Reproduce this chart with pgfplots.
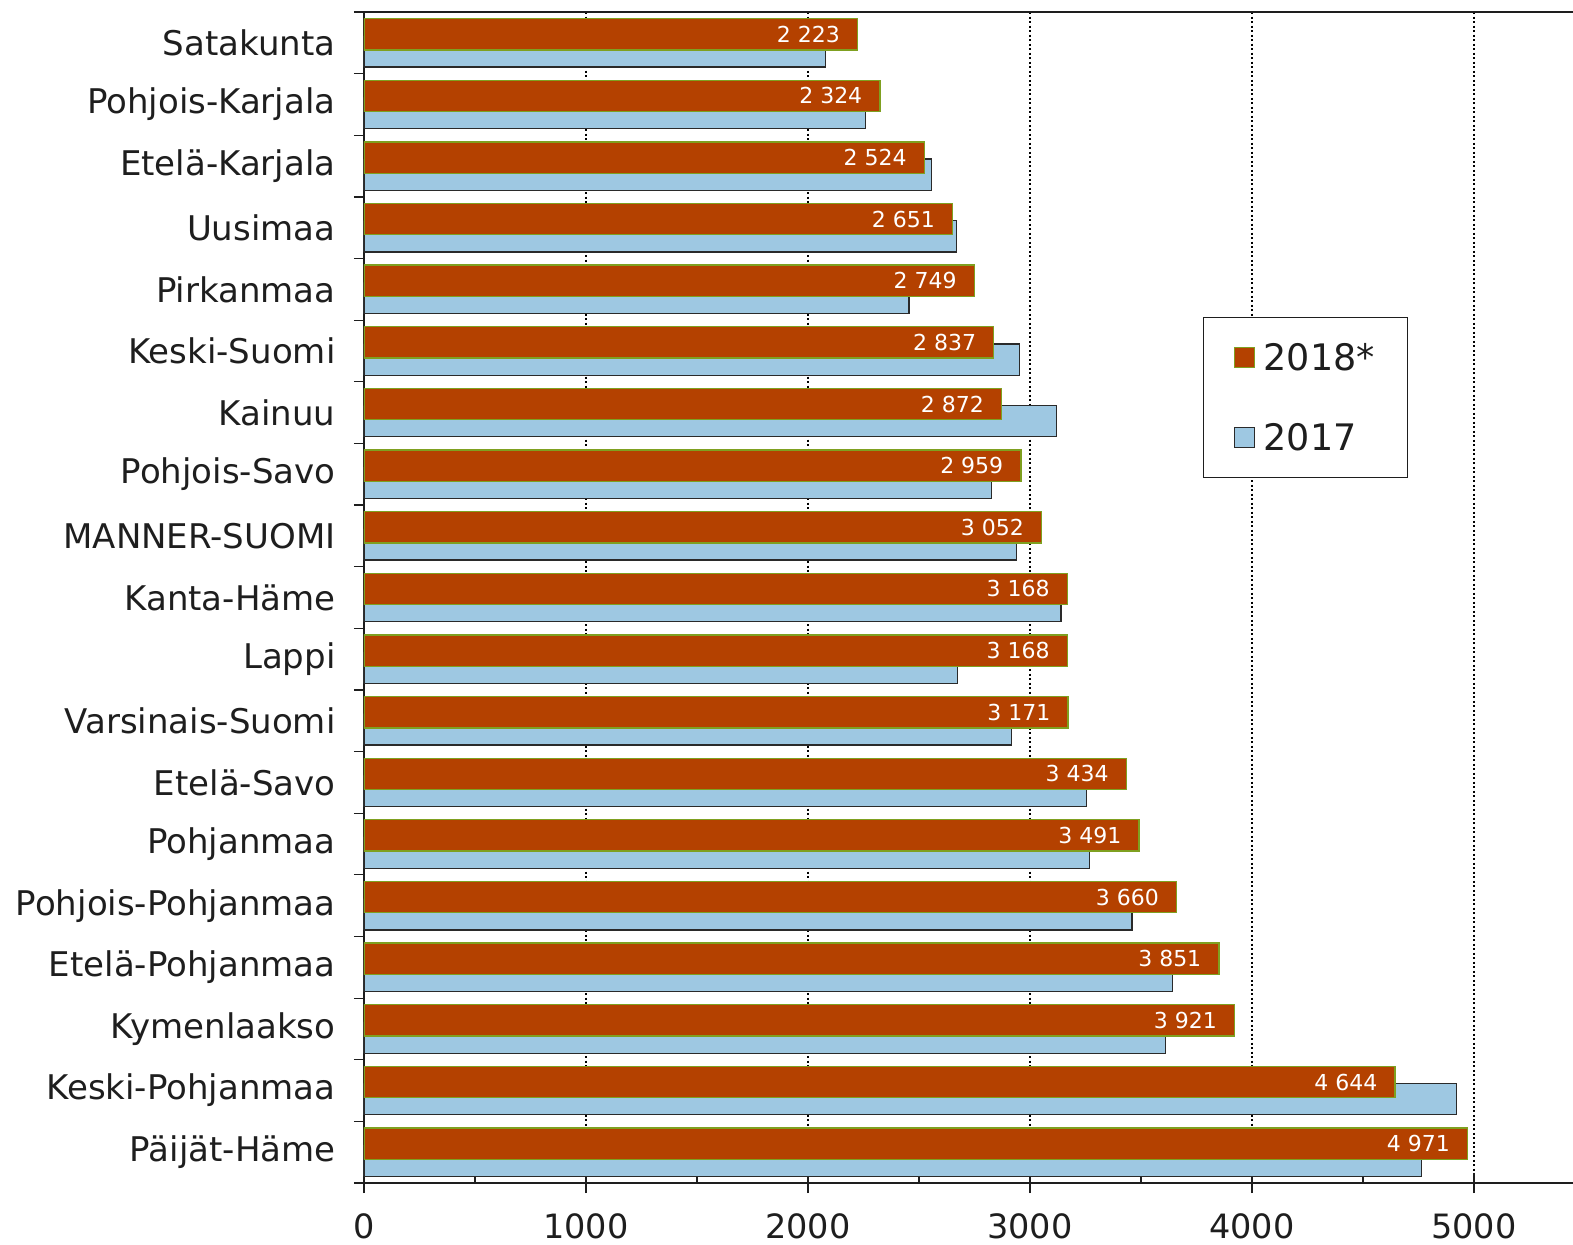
\documentclass[border=0pt]{standalone}
\usepackage{fontspec}
\setmainfont{DejaVu Sans}
\usepackage{pgfplots}
\pgfplotsset{compat=1.18}

\definecolor{brown18}{HTML}{B44100}
\definecolor{edge18}{HTML}{7FA020}
\definecolor{blue17}{HTML}{9EC8E2}
\definecolor{edge17}{HTML}{2A2A2A}
\definecolor{txt}{HTML}{1E1E1E}

\begin{document}
\begin{tikzpicture}
\useasboundingbox (-364pt,-61pt) rectangle (1209pt,1183pt);
\begin{axis}[
    name=ax,
    at={(0,0)}, anchor=south west,
    scale only axis,
    width=1209pt, height=1171pt,
    xmin=0, xmax=5446,
    ymin=-0.5, ymax=18.5, y dir=reverse,
    axis x line*=bottom, axis y line*=left,
    axis line style={line width=2.5pt, txt},
    xbar, bar width=0.508,
    tick align=outside, major tick length=10pt,
    tick style={line width=1.2pt, txt},
    xtick={0,1000,...,5000},
    xticklabel style={/pgf/number format/1000 sep={}, yshift=-17pt,
        font=\fontsize{33.5pt}{40pt}\selectfont},
    xmajorgrids,
    major grid style={black, line width=2pt, dash pattern=on 2pt off 2.5pt},
    extra x ticks={500,1000,...,5000}, extra x tick labels={},
    extra x tick style={tick align=inside, grid=none},
    ytick={-0.5,0.5,...,18.5}, yticklabels={},
    extra y ticks={0,...,18},
    extra y tick labels={Satakunta,Pohjois-Karjala,Etelä-Karjala,Uusimaa,Pirkanmaa,Keski-Suomi,Kainuu,Pohjois-Savo,MANNER-SUOMI,Kanta-Häme,Lappi,Varsinais-Suomi,Etelä-Savo,Pohjanmaa,Pohjois-Pohjanmaa,Etelä-Pohjanmaa,Kymenlaakso,Keski-Pohjanmaa,Päijät-Häme},
    extra y tick style={major tick length=0pt},
    yticklabel style={xshift=-25pt, font=\fontsize{34pt}{40pt}\selectfont},
    tick label style={text=txt},
    /pgf/number format/assume math mode=true,
    reverse legend,
    legend style={at={(axis description cs:0.694,0.7395)}, anchor=north west,
        draw=txt, line width=1pt, inner xsep=30pt, inner ysep=23pt,
        row sep=45pt, font=\fontsize{36.5pt}{42pt}\selectfont,
        nodes={inner sep=3pt, text=txt}},
    legend cell align=left,
    legend image code/.code={\draw[#1, line width=1pt] (0pt,-10pt) rectangle (20pt,10pt);
        \path (26pt,0pt);},
]
% 2017
\addplot[fill=blue17, draw=edge17, line width=1.3pt, bar shift=0.139] coordinates {
(2080,0) (2260,1) (2556,2) (2670,3) (2455,4) (2953,5) (3118,6) (2826,7) (2940,8)
(3140,9) (2673,10) (2918,11) (3254,12) (3269,13) (3460,14) (3643,15) (3610,16)
(4920,17) (4763,18)};
\addlegendentry{2017}
% 2018*
\addplot[fill=brown18, draw=edge18, line width=1.3pt, bar shift=-0.139,
    point meta=x,
    nodes near coords={\pgfmathprintnumber[assume math mode=true, 1000 sep={\ }]{\pgfplotspointmeta}},
    every node near coord/.append style={anchor=east, inner sep=0pt, xshift=-17pt,
        text=white, font=\fontsize{22pt}{26pt}\selectfont}] coordinates {
(2223,0) (2324,1) (2524,2) (2651,3) (2749,4) (2837,5) (2872,6) (2959,7) (3052,8)
(3168,9) (3168,10) (3171,11) (3434,12) (3491,13) (3660,14) (3851,15) (3921,16)
(4644,17) (4971,18)};
\addlegendentry{2018*}
\end{axis}
\draw[line width=2.5pt, txt] (ax.north west) -- (ax.north east);
\end{tikzpicture}
\end{document}
